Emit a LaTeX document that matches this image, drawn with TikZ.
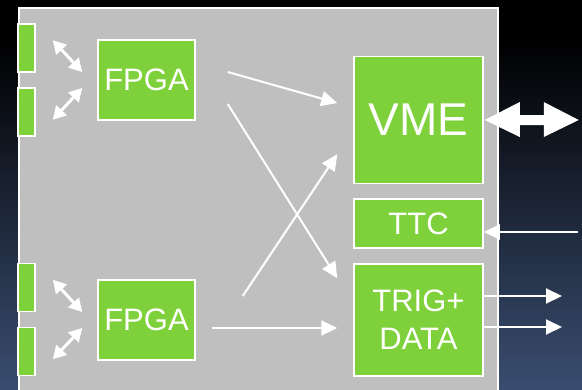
\documentclass[tikz,border=0pt]{standalone}
\usepackage{fontspec}
\setmainfont{Liberation Sans}
\usetikzlibrary{positioning, arrows.meta}
\definecolor{boardgreen}{RGB}{127,209,59}
\definecolor{boardgray}{RGB}{191,191,191}
\definecolor{nightblue}{RGB}{58,77,112}
\tikzset{
block/.style={draw=white, line width=1.5pt, fill=boardgreen, text=white, inner sep=0pt}, % the green boxes
port/.style={block, minimum width=17pt, minimum height=48pt}, % connector tabs on the left edge
link/.style={white, line width=2pt, -{Triangle[length=16pt,width=15pt]}}, % signal lines
dbl/.style={white, line width=3pt, {Triangle[length=13pt,width=14pt]}-{Triangle[length=13pt,width=14pt]}}, % tab <-> fpga
}

\begin{document}
\begin{tikzpicture}[x=1pt,y=-1pt,font=\fontsize{31}{38}\selectfont]
\clip (0,0) rectangle (582,389);
% background and board
\fill[black] (0,0) rectangle (582,389);
\shade[top color=black, bottom color=nightblue] (0,40) rectangle (582,389);
\draw[white, line width=2pt, fill=boardgray] (19,8) rectangle (498,400);

\node[port] (p1) at (26.5,48) {};
\node[port] (p2) at (26.5,112) {};
\node[port] (p3) at (26.5,287.5) {};
\node[port] (p4) at (26.5,351.5) {};

\node[block, minimum width=97pt, minimum height=80pt] (fpgaA) at (146.5,80) {FPGA};
\node[block, minimum width=97pt, minimum height=80pt] (fpgaB) at (146.5,320) {FPGA};

\node[block, minimum width=129pt, minimum height=127pt, font=\fontsize{46}{50}\selectfont] (vme) at (418.5,120) {VME};
\node[block, minimum width=129pt, minimum height=49pt] (ttc) at (418.5,223.5) {TTC};
\node[block, minimum width=129pt, minimum height=112pt, align=center] (trig) at (418.5,320) {TRIG+\\DATA};

\coordinate (ttcin) at (578,232);
\coordinate (outA) at (562,296);
\coordinate (outB) at (562,327);

% tabs to fpgas
\draw[dbl] ([shift={(17,17)}]p1.north east) -- ([shift={(-15,-8)}]fpgaA.west);
\draw[dbl] ([shift={(17,-17)}]p2.south east) -- ([shift={(-15,8)}]fpgaA.west);
\draw[dbl] ([shift={(17,17)}]p3.north east) -- ([shift={(-15,-8)}]fpgaB.west);
\draw[dbl] ([shift={(17,-17)}]p4.south east) -- ([shift={(-15,8)}]fpgaB.west);

% fpgas to vme and trig
\draw[link] ([shift={(32,-8)}]fpgaA.east) -- ([shift={(-16,-17)}]vme.west);
\draw[link] ([shift={(32,24)}]fpgaA.east) -- ([shift={(-16,15)}]trig.north west);
\draw[link] ([shift={(47,-24)}]fpgaB.east) -- ([shift={(-16,-30)}]vme.south west);
\draw[link] ([shift={(16,8)}]fpgaB.east) -- ([shift={(-16,8)}]trig.west);

% outside world
\fill[white] ([xshift=1pt]vme.east) -- ++(35,-18) -- ++(0,13) -- ++(24,0) -- ++(0,-13)
  -- ++(35,18) -- ++(-35,17) -- ++(0,-12) -- ++(-24,0) -- ++(0,12) -- cycle;
\draw[link] (ttcin) -- (ttc.east |- ttcin);
\draw[link] (trig.east |- outA) -- (outA);
\draw[link] (trig.east |- outB) -- (outB);
\end{tikzpicture}
\end{document}
